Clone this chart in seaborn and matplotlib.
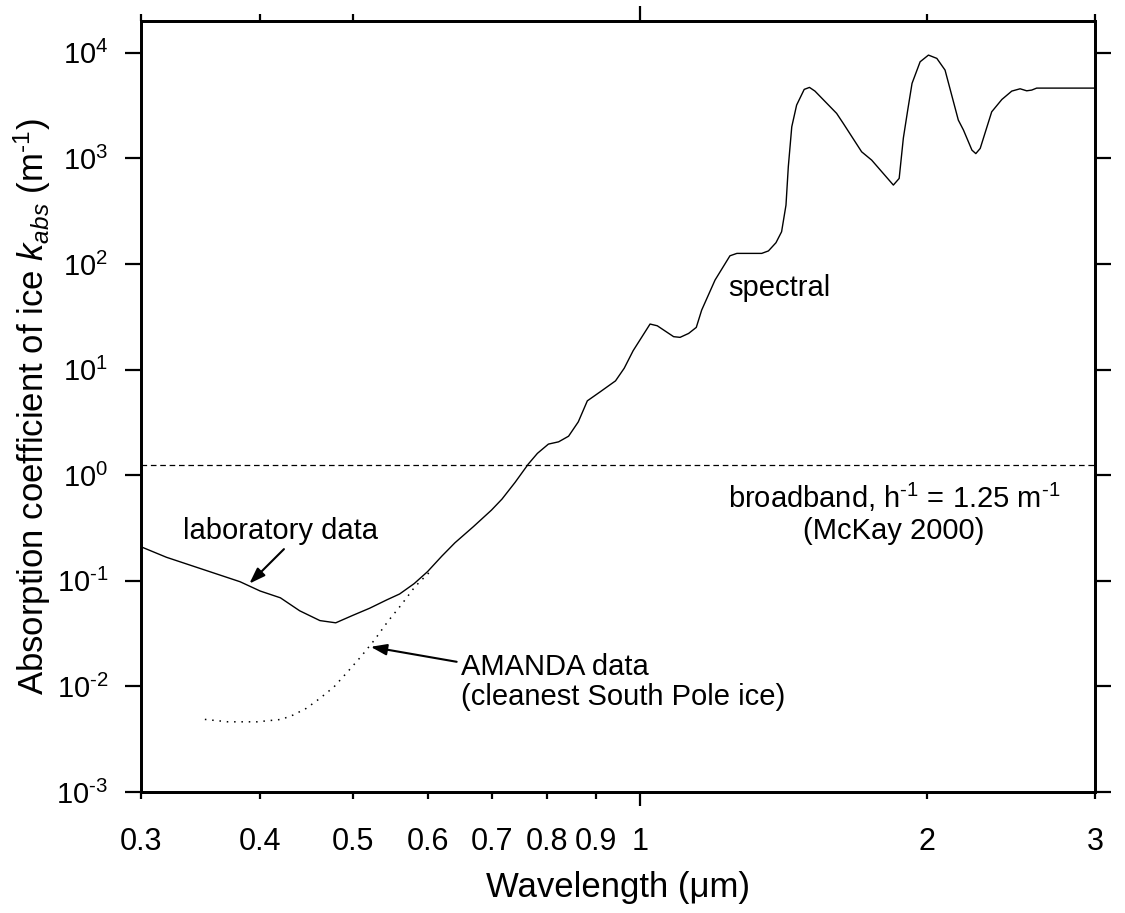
import numpy as np
import pandas as pd
import seaborn as sns
import matplotlib
matplotlib.use("Agg")
import matplotlib.pyplot as plt
from matplotlib.ticker import FixedLocator, FixedFormatter, NullFormatter

# ---------------- data ----------------
lam_spec = [0.300, 0.319, 0.381, 0.400, 0.420, 0.440, 0.462, 0.480, 0.500, 0.521,
            0.543, 0.560, 0.580, 0.599, 0.620, 0.640, 0.669, 0.699, 0.717, 0.740,
            0.764, 0.781, 0.802, 0.822, 0.842, 0.862, 0.881, 0.909, 0.943, 0.963,
            0.984, 1.025, 1.043, 1.085, 1.102, 1.125, 1.146, 1.161, 1.199, 1.243,
            1.264, 1.342, 1.364, 1.389, 1.408, 1.423, 1.431, 1.443, 1.460, 1.487,
            1.506, 1.526, 1.608, 1.634, 1.708, 1.750, 1.844, 1.870, 1.889, 1.909,
            1.929, 1.967, 2.007, 2.048, 2.089, 2.157, 2.184, 2.229, 2.250, 2.274,
            2.338, 2.396, 2.454, 2.504, 2.544, 2.575, 2.606, 3.000]
k_spec = [0.210, 0.167, 0.098, 0.080, 0.069, 0.052, 0.042, 0.040, 0.047, 0.055,
          0.066, 0.075, 0.094, 0.122, 0.171, 0.229, 0.325, 0.467, 0.594, 0.855,
          1.275, 1.61, 1.97, 2.07, 2.34, 3.20, 5.06, 6.17, 7.82, 10.3,
          15.1, 27.0, 26.0, 20.5, 20.2, 22.0, 25.1, 36.6, 70.4, 119.6,
          126, 126, 133, 159, 202, 361, 833, 1992, 3197, 4502,
          4701, 4338, 2668, 2145, 1155, 963, 559, 646, 1557, 2867,
          5131, 8219, 9511, 8850, 6859, 2305, 1854, 1198, 1110, 1243,
          2762, 3613, 4338, 4562, 4365, 4435, 4630, 4630]

lam_amanda = [0.350, 0.370, 0.397, 0.421, 0.433, 0.447, 0.462, 0.478, 0.494, 0.510,
              0.527, 0.544, 0.562, 0.581, 0.599, 0.605]
k_amanda = [0.00487, 0.00462, 0.00462, 0.00487, 0.00535, 0.00619, 0.0077, 0.0099,
            0.01375, 0.0191, 0.0275, 0.0409, 0.0589, 0.0877, 0.1157, 0.125]

broadband_k = 1.25

x_ticks = [0.3, 0.4, 0.5, 0.6, 0.7, 0.8, 0.9, 2, 3]
x_tick_labels = ["0.3", "0.4", "0.5", "0.6", "0.7", "0.8", "0.9", "2", "3"]
x_major = [1]
x_major_labels = ["1"]
top_minor = [0.3, 0.4, 0.5, 2, 3]
y_ticks = [1e-3, 1e-2, 1e-1, 1e0, 1e1, 1e2, 1e3, 1e4]
y_tick_labels = [r"$10^{\text{-}3}$", r"$10^{\text{-}2}$", r"$10^{\text{-}1}$", r"$10^{0}$",
                 r"$10^{1}$", r"$10^{2}$", r"$10^{3}$", r"$10^{4}$"]

# ---------------- style ----------------
sns.set_theme(style="ticks")
plt.rcParams["font.family"] = ["Liberation Sans", "DejaVu Sans"]
plt.rcParams["mathtext.fontset"] = "custom"
plt.rcParams["mathtext.rm"] = "Liberation Sans"
plt.rcParams["mathtext.it"] = "Liberation Sans:italic"
plt.rcParams["mathtext.bf"] = "Liberation Sans:bold"
plt.rcParams["axes.unicode_minus"] = False
for key in ["text.color", "axes.labelcolor", "xtick.color", "ytick.color",
            "axes.edgecolor", "xtick.labelcolor", "ytick.labelcolor"]:
    plt.rcParams[key] = "black"

fig = plt.figure(figsize=(11.25, 9.13), dpi=100)
ax = fig.add_axes([141 / 1125, 1 - 792 / 913, (1095 - 141) / 1125, (792 - 21) / 913])

spec_df = pd.DataFrame({"wavelength": lam_spec, "k": k_spec})
am_df = pd.DataFrame({"wavelength": lam_amanda, "k": k_amanda})

sns.lineplot(data=spec_df, x="wavelength", y="k", ax=ax, color="black",
             linewidth=1.0, estimator=None, sort=False)
sns.lineplot(data=am_df, x="wavelength", y="k", ax=ax, color="black",
             linewidth=1.1, linestyle=(0, (1, 3.8)), estimator=None, sort=False)
ax.axhline(broadband_k, color="black", linewidth=0.9, linestyle=(0, (4.5, 3)))

ax.set_xscale("log")
ax.set_yscale("log")
ax.set_xlim(0.3, 3)
ax.set_ylim(1e-3, 2e4)

for s in ax.spines.values():
    s.set_linewidth(2.0)
    s.set_color("black")

# x ticks
ax.xaxis.set_major_locator(FixedLocator(x_major))
ax.xaxis.set_major_formatter(FixedFormatter(x_major_labels))
ax.xaxis.set_minor_locator(FixedLocator(x_ticks))
ax.xaxis.set_minor_formatter(FixedFormatter(x_tick_labels))
ax.tick_params(axis="x", which="major", direction="out", length=10, width=1.6,
               labelsize=22, pad=15, color="black")
ax.tick_params(axis="x", which="minor", direction="out", length=5, width=1.6,
               labelsize=22, pad=20, color="black")

# y ticks
ax.yaxis.set_major_locator(FixedLocator(y_ticks))
ax.yaxis.set_major_formatter(FixedFormatter(y_tick_labels))
ax.yaxis.set_minor_locator(FixedLocator([]))
ax.tick_params(axis="y", which="major", direction="out", length=11.5, width=1.6,
               labelsize=21, pad=12, right=True, color="black")

# top ticks
top = ax.twiny()
top.set_xscale("log")
top.set_xlim(ax.get_xlim())
top.xaxis.set_major_locator(FixedLocator([1]))
top.xaxis.set_minor_locator(FixedLocator(top_minor))
top.xaxis.set_major_formatter(NullFormatter())
top.xaxis.set_minor_formatter(NullFormatter())
top.tick_params(axis="x", which="major", direction="out", length=11, width=1.6)
top.tick_params(axis="x", which="minor", direction="out", length=5, width=1.6)
for s in top.spines.values():
    s.set_linewidth(2.0)
    s.set_color("black")

ax.set_xlabel("Wavelength (μm)", fontsize=25)
ax.set_ylabel(r"Absorption coefficient of ice $k_{abs}$ (m$^{\text{-}1}$)", fontsize=25)
ax.xaxis.set_label_coords(0.5, -0.103)
ax.yaxis.set_label_coords(-0.092, 0.5)

# annotations
ax.text(1.238, 59.1, "spectral", fontsize=21, ha="left", va="center")
ax.text(0.3317, 0.296, "laboratory data", fontsize=21, ha="left", va="center")
ax.text(0.6496, 0.011, "AMANDA data\n(cleanest South Pole ice)", fontsize=21,
        ha="left", va="center", linespacing=1.1)
ax.text(1.847, 0.438, "broadband, h$^{\\text{-}1}$ = 1.25 m$^{\\text{-}1}$\n(McKay 2000)",
        fontsize=21, ha="center", va="center", multialignment="center", linespacing=1.15)

arrow = dict(arrowstyle="-|>,head_length=0.8,head_width=0.28", color="black",
             lw=1.5, shrinkA=0, shrinkB=0)
ax.annotate("", xy=(0.3897, 0.0941), xytext=(0.4236, 0.1995), arrowprops=arrow)
ax.annotate("", xy=(0.5223, 0.0237), xytext=(0.6427, 0.0171), arrowprops=arrow)

fig.savefig("out.png", dpi=100)
